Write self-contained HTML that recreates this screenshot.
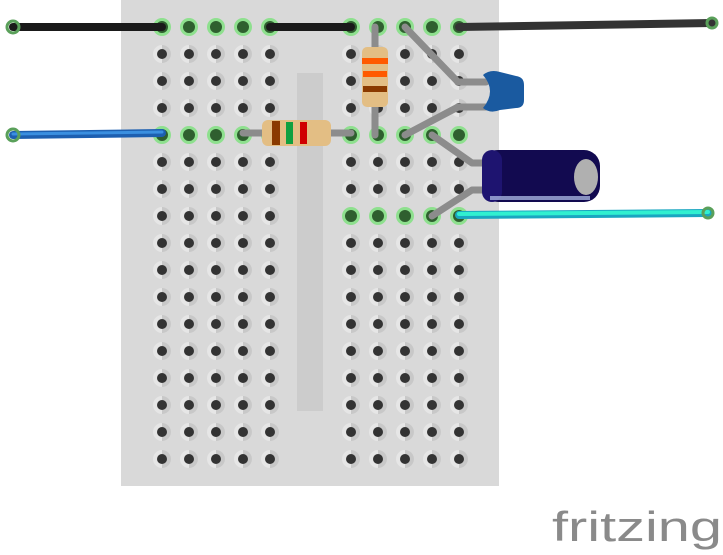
<!DOCTYPE html>
<html><head><style>html,body{margin:0;padding:0;background:#fff;}svg{display:block}</style></head>
<body>
<svg width="723" height="555" viewBox="0 0 723 555" xmlns="http://www.w3.org/2000/svg">
<defs>
<g id="h"><circle r="9" fill="#e6e6e6"/><path d="M0,-9 A9,9 0 0 1 0,9 Z" fill="#c8c8c8"/><circle r="5" fill="#333"/></g>
<g id="g"><circle r="9" fill="#8ee08e"/><circle r="6" fill="#2f5f2f"/></g>
</defs>
<rect x="121" y="0" width="378" height="486" fill="#d9d9d9"/>
<rect x="297" y="73" width="26" height="338" fill="#cccccc"/>
<g id="holes"></g>
<script>
(function(){var s="http://www.w3.org/2000/svg",g=document.getElementById("holes");
var cols=[162,189,216,243,270,351,378,405,432,459];
for(var r=0;r<17;r++){var y=27+27*r;for(var c=0;c<10;c++){var x=cols[c];
var green=(r==0)||(r==4)||(r==7&&c>=5);
var u=document.createElementNS(s,"use");u.setAttribute("href",green?"#g":"#h");
u.setAttribute("x",x);u.setAttribute("y",y);g.appendChild(u);}}})();
</script>
<g stroke-linecap="round">
<line x1="13" y1="27" x2="162" y2="27" stroke="#1a1a1a" stroke-width="8"/>
<line x1="270" y1="27" x2="351" y2="27" stroke="#1a1a1a" stroke-width="8"/>
<line x1="459" y1="27" x2="712" y2="23" stroke="#333" stroke-width="8"/>
<line x1="13" y1="135" x2="162" y2="133" stroke="#1d5fb0" stroke-width="8"/>
<line x1="13" y1="134" x2="162" y2="132" stroke="#3a8fe0" stroke-width="3"/>
<line x1="459" y1="215" x2="708" y2="213" stroke="#1aa6c0" stroke-width="8"/>
<line x1="459" y1="214" x2="708" y2="212" stroke="#30f0d0" stroke-width="4"/>
</g>
<g fill="none" stroke="#5aa05a" stroke-width="3"><circle cx="13" cy="27" r="6"/><circle cx="13" cy="135" r="6"/><circle cx="712" cy="23" r="5"/><circle cx="708" cy="213" r="5"/></g>
<g stroke="#8c8c8c" stroke-width="7" fill="none" stroke-linecap="round" stroke-linejoin="round">
<line x1="243" y1="133" x2="351" y2="133"/>
<line x1="375" y1="27" x2="375" y2="135"/>
<polyline points="405,27 458,82 486,82"/>
<polyline points="405,135 458,107 486,107"/>
<polyline points="432,135 472,163 490,163"/>
<polyline points="432,216 472,190 490,190"/>
</g>
<rect x="262" y="120" width="69" height="26" rx="6" fill="#e3be84"/>
<rect x="272" y="121" width="8" height="24" fill="#8a3a00"/>
<rect x="286" y="122" width="7" height="22" fill="#10a040"/>
<rect x="300" y="122" width="7" height="22" fill="#d00000"/>
<rect x="362" y="47" width="26" height="60" rx="5" fill="#e3be84"/>
<rect x="362" y="58" width="26" height="6" fill="#ff5a00"/>
<rect x="363" y="71" width="24" height="6" fill="#ff5a00"/>
<rect x="363" y="86" width="24" height="6" fill="#8a3a00"/>
<path d="M483,75 Q490,69 500,72 L516,76 Q524,77 524,85 L524,100 Q524,108 516,108 L500,110 Q490,114 483,108 Q497,91 483,75Z" fill="#1a5aa0"/>
<rect x="482" y="150" width="118" height="52" rx="16" fill="#120a50"/>
<rect x="482" y="150" width="20" height="52" rx="10" fill="#1e1470"/>
<ellipse cx="586" cy="177" rx="12" ry="18" fill="#b0b0b0"/>
<rect x="490" y="196" width="100" height="4" fill="#b8c8f0" opacity="0.7"/>
<text x="552" y="541" font-family="Liberation Sans, DejaVu Sans, sans-serif" font-size="42" fill="#8a8a8a" textLength="170" lengthAdjust="spacingAndGlyphs">fritzing</text>
</svg>
</body></html>
